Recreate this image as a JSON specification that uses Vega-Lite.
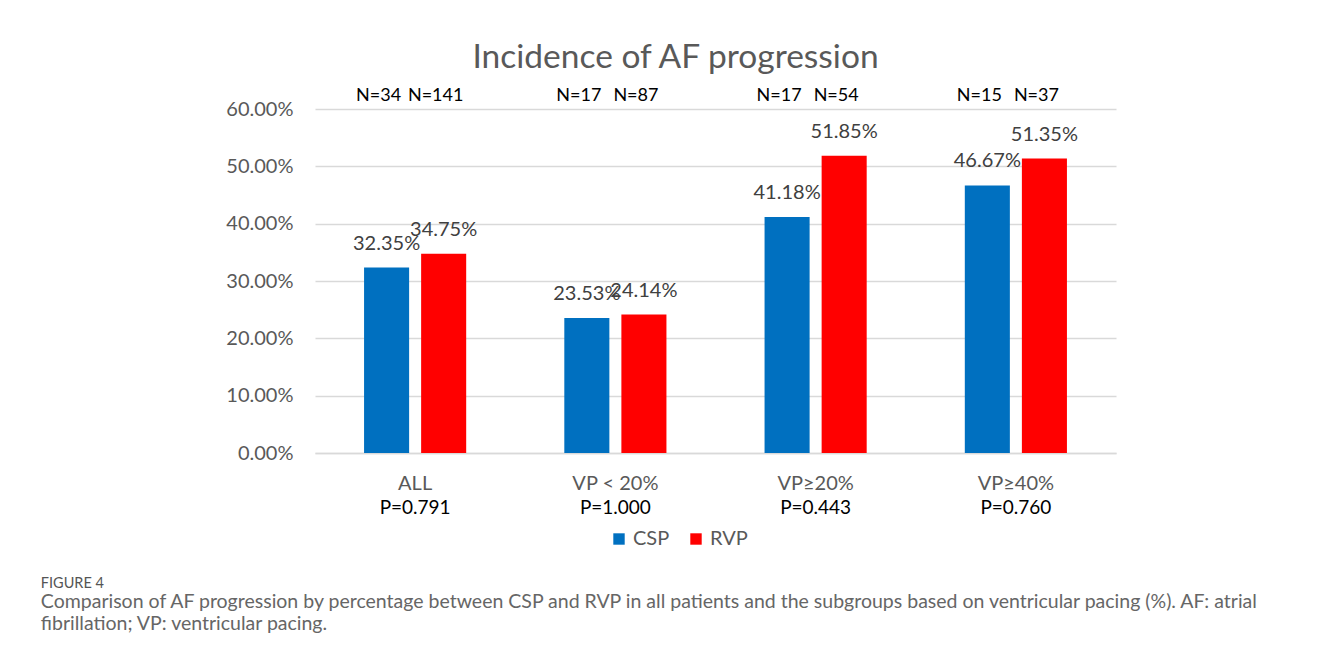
{
  "$schema": "https://vega.github.io/schema/vega-lite/v6.json",
  "padding": {"left": 40, "top": 41, "right": 10, "bottom": 10},
  "background": "white",
  "config": {
    "font": "Lato",
    "view": {"stroke": null}
  },
  "title": {
    "text": "FIGURE 4",
    "subtitle": ["Comparison of AF progression by percentage between CSP and RVP in all patients and the subgroups based on ventricular pacing (%). AF: atrial", "fibrillation; VP: ventricular pacing."],
    "orient": "bottom",
    "anchor": "start",
    "dx": -185,
    "offset": 28,
    "font": "Lato",
    "fontSize": 14.5,
    "fontWeight": "normal",
    "color": "#555555",
    "subtitleFont": "Lato",
    "subtitleFontSize": 19.5,
    "subtitleColor": "#666666",
    "subtitleLineHeight": 22,
    "subtitlePadding": 1
  },
  "datasets": {
    "rates": [
      {"group": "ALL", "series": "CSP", "rate": 0.3235, "n": "N=34", "p": "P=0.791"},
      {"group": "ALL", "series": "RVP", "rate": 0.3475, "n": "N=141", "p": "P=0.791"},
      {"group": "VP < 20%", "series": "CSP", "rate": 0.2353, "n": "N=17", "p": "P=1.000"},
      {"group": "VP < 20%", "series": "RVP", "rate": 0.2414, "n": "N=87", "p": "P=1.000"},
      {"group": "VP≥20%", "series": "CSP", "rate": 0.4118, "n": "N=17", "p": "P=0.443"},
      {"group": "VP≥20%", "series": "RVP", "rate": 0.5185, "n": "N=54", "p": "P=0.443"},
      {"group": "VP≥40%", "series": "CSP", "rate": 0.4667, "n": "N=15", "p": "P=0.760"},
      {"group": "VP≥40%", "series": "RVP", "rate": 0.5135, "n": "N=37", "p": "P=0.760"}
    ]
  },
  "vconcat": [
    {
      "width": 801,
      "height": 344,
      "title": {
        "text": "Incidence of AF progression",
        "font": "Lato",
        "fontSize": 33.5,
        "fontWeight": "normal",
        "color": "#595959",
        "anchor": "middle",
        "frame": "group",
        "dx": -40,
        "offset": 11
      },
      "data": {"name": "rates"},
      "encoding": {
        "x": {
          "field": "group",
          "type": "nominal",
          "sort": null,
          "scale": {"paddingInner": 0, "paddingOuter": 0},
          "axis": {
            "title": null,
            "labelAngle": 0,
            "labelFontSize": 20,
            "labelColor": "#595959",
            "labelPadding": 20,
            "ticks": false,
            "domainColor": "#d9d9d9",
            "domainWidth": 1.5,
            "grid": false
          }
        },
        "y": {
          "type": "quantitative",
          "scale": {"domain": [0, 0.6], "nice": false, "zero": true}
        }
      },
      "layer": [
        {
          "mark": {"type": "bar"},
          "encoding": {
            "xOffset": {
              "field": "series",
              "type": "nominal",
              "scale": {"paddingInner": 0.2105, "paddingOuter": 0.8597}
            },
            "y": {
              "field": "rate",
              "type": "quantitative",
              "scale": {"domain": [0, 0.6], "nice": false},
              "axis": {
                "title": null,
                "format": ".2%",
                "values": [0, 0.1, 0.2, 0.3, 0.4, 0.5, 0.6],
                "labelFontSize": 20,
                "labelColor": "#595959",
                "labelPadding": 22,
                "ticks": false,
                "domain": false,
                "grid": true,
                "gridColor": "#d9d9d9",
                "gridWidth": 1.5
              }
            },
            "color": {
              "field": "series",
              "type": "nominal",
              "scale": {"domain": ["CSP", "RVP"], "range": ["#0070C0", "#FF0000"]},
              "legend": {
                "title": null,
                "orient": "none",
                "legendX": 294,
                "legendY": 420,
                "direction": "horizontal",
                "symbolType": "square",
                "symbolSize": 130,
                "symbolStrokeWidth": 0,
                "labelFontSize": 20,
                "labelColor": "#595959",
                "columnPadding": 16
              }
            }
          }
        },
        {
          "mark": {"type": "text", "baseline": "bottom", "dy": -14, "fontSize": 20, "color": "#404040"},
          "encoding": {
            "xOffset": {"field": "series", "type": "nominal"},
            "y": {"field": "rate", "type": "quantitative"},
            "text": {"field": "rate", "type": "quantitative", "format": ".2%"}
          }
        },
        {
          "mark": {"type": "text", "baseline": "middle", "fontSize": 18, "color": "#000000", "dx": -8},
          "encoding": {
            "xOffset": {"field": "series", "type": "nominal"},
            "y": {"datum": 0.623, "type": "quantitative"},
            "text": {"field": "n", "type": "nominal"}
          }
        },
        {
          "transform": [{"filter": "datum.series === 'CSP'"}],
          "mark": {"type": "text", "baseline": "middle", "fontSize": 19, "color": "#000000"},
          "encoding": {
            "y": {"datum": -0.096, "type": "quantitative"},
            "text": {"field": "p", "type": "nominal"}
          }
        }
      ]
    }
  ]
}
